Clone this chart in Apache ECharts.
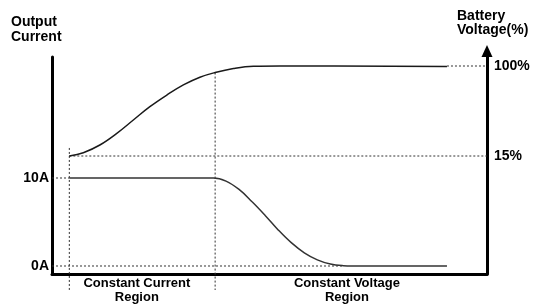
<!DOCTYPE html>
<html>
<head>
<meta charset="utf-8">
<script src="https://cdn.jsdelivr.net/npm/echarts@6/dist/echarts.min.js"></script>
<style>
    html, body { margin: 0; padding: 0; background: #fff; }
    #chart { width: 534px; height: 305px; }
</style>
</head>
<body>
<div id="chart"></div>
<script>
    // 充电曲线数据 (x: 时间 0~100)
    const currentX = [3.98, 37.1, 40, 43, 46, 49, 52, 55, 58, 61, 64, 67, 69, 90.8];
    const currentY = [10, 10, 9.65, 8.7, 7.3, 5.75, 4.1, 2.65, 1.5, 0.7, 0.22, 0.03, 0, 0];
    const voltageX = [3.98, 7.2, 11.0, 14.9, 18.7, 22.5, 26.4, 30.2, 34.0, 37.5, 41.7, 46.3, 52.4, 90.8];
    const voltageY = [15, 18.1, 25.4, 36.4, 49.0, 61.6, 72.6, 82.1, 89.4, 93.8, 97.6, 99.8, 100.1, 99.5];

    // 刻度
    const currentTicks = [0, 10];
    const voltageTicks = [15, 100];
    const regionTicks = [19.5, 67.8];
    const regionLabels = ['Constant Current\nRegion', 'Constant Voltage\nRegion'];

    // 区域分界
    const ccStart = 3.98;
    const cvStart = 37.5;
    const chargeEnd = 90.8;

    const zip = (xs, ys) => xs.map((x, i) => [x, ys[i]]);
    const font = 'Liberation Sans, Arial, Helvetica, sans-serif';

    const chartInstance = echarts.init(document.getElementById('chart'));

    const dotted = (data, yIndex) => ({
        type: 'line',
        yAxisIndex: yIndex,
        data: data,
        symbol: 'none',
        silent: true,
        clip: false,
        z: 1,
        lineStyle: { color: '#333', width: 1, type: [2, 2] }
    });

    const option = {
        animation: false,
        title: [
            {
                text: 'Output\nCurrent',
                left: 11, top: 15, padding: 0,
                textStyle: { fontFamily: font, fontSize: 14, fontWeight: 'bold', color: '#000', lineHeight: 15 }
            },
            {
                text: 'Battery\nVoltage(%)',
                left: 457, top: 9, padding: 0,
                textStyle: { fontFamily: font, fontSize: 14, fontWeight: 'bold', color: '#000', lineHeight: 14 }
            }
        ],
        grid: { left: 52, right: 47, top: 57, bottom: 31 },
        xAxis: {
            type: 'value',
            min: 0,
            max: 100,
            splitLine: { show: false },
            axisTick: { show: false },
            axisLine: { onZero: false, lineStyle: { color: '#000', width: 3 } },
            axisLabel: {
                customValues: regionTicks,
                formatter: (v) => regionLabels[regionTicks.indexOf(v)],
                margin: 2,
                fontFamily: font, fontSize: 13, fontWeight: 'bold', color: '#000', lineHeight: 14
            }
        },
        yAxis: [
            {
                type: 'value',
                position: 'left',
                min: -0.91,
                max: 23.75,
                splitLine: { show: false },
                axisTick: { show: false },
                axisLine: { show: true, onZero: false, lineStyle: { color: '#000', width: 3 } },
                axisLabel: {
                    customValues: currentTicks,
                    formatter: '{value}A',
                    margin: 3,
                    fontFamily: font, fontSize: 14, fontWeight: 'bold', color: '#000'
                }
            },
            {
                type: 'value',
                position: 'right',
                min: -96.44,
                max: 108.5,
                splitLine: { show: false },
                axisTick: { show: false },
                axisLine: {
                    show: true,
                    onZero: false,
                    symbol: ['none', 'triangle'],
                    symbolSize: [11, 12],
                    symbolOffset: [0, 6],
                    lineStyle: { color: '#000', width: 3 }
                },
                axisLabel: {
                    customValues: voltageTicks,
                    formatter: '{value}%',
                    margin: 7,
                    fontFamily: font, fontSize: 14, fontWeight: 'bold', color: '#000'
                }
            }
        ],
        series: [
            // 虚线辅助线
            dotted([[ccStart, 22.6], [ccStart, -111.6]], 1),
            dotted([[cvStart, 93.8], [cvStart, -111.6]], 1),
            dotted([[ccStart, 15], [100, 15]], 1),
            dotted([[chargeEnd, 100], [100, 100]], 1),
            dotted([[0, 10], [ccStart, 10]], 0),
            dotted([[0, 0], [66.9, 0]], 0),
            {
                name: 'Current',
                type: 'line',
                yAxisIndex: 0,
                data: zip(currentX, currentY),
                smooth: 0.4,
                symbol: 'none',
                z: 3,
                lineStyle: { color: '#333', width: 1.5 }
            },
            {
                name: 'Voltage',
                type: 'line',
                yAxisIndex: 1,
                data: zip(voltageX, voltageY),
                smooth: 0.4,
                symbol: 'none',
                z: 3,
                lineStyle: { color: '#1a1a1a', width: 1.5 }
            }
        ]
    };
    chartInstance.setOption(option);
</script>
</body>
</html>
